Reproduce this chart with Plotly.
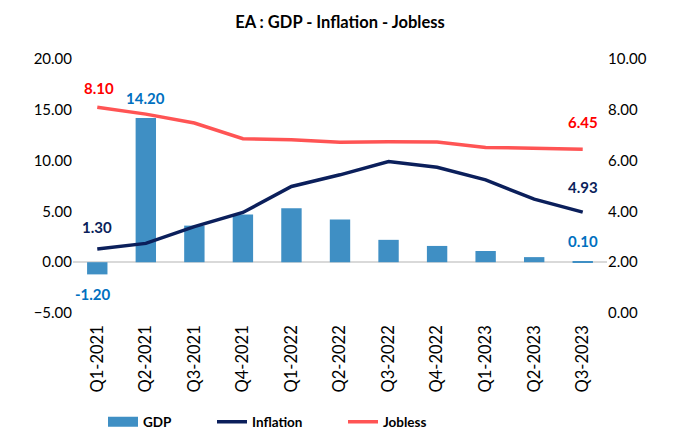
import plotly.graph_objects as go

quarters = ["Q1-2021", "Q2-2021", "Q3-2021", "Q4-2021", "Q1-2022", "Q2-2022",
            "Q3-2022", "Q4-2022", "Q1-2023", "Q2-2023", "Q3-2023"]
gdp = [-1.20, 14.20, 3.6, 4.7, 5.3, 4.2, 2.2, 1.6, 1.1, 0.5, 0.10]
inflation = [1.30, 1.85, 3.5, 4.9, 7.45, 8.6, 9.9, 9.35, 8.1, 6.2, 4.93]
jobless = [8.10, 7.83, 7.48, 6.86, 6.82, 6.72, 6.74, 6.73, 6.52, 6.47, 6.45]

font = "Lato"
c_gdp = "#3F8FC4"
c_inf = "#0B1F5B"
c_job = "#FF5454"

# page has an 8px body margin, so the figure is 8px smaller than the window
W, H = 670, 424

fig = go.Figure()
fig.add_trace(go.Bar(x=quarters, y=gdp, name="GDP", marker_color=c_gdp,
                     marker_line_width=0, showlegend=False))
# legend swatch for the bars (wide rectangle like the original)
fig.add_trace(go.Scatter(x=[None], y=[None], name="GDP", mode="lines",
                         line=dict(color=c_gdp, width=10), legend="legend"))
fig.add_trace(go.Scatter(x=quarters, y=inflation, name="Inflation", mode="lines",
                         line=dict(color=c_inf, width=3.5), legend="legend2"))
fig.add_trace(go.Scatter(x=quarters, y=jobless, name="Jobless", mode="lines",
                         line=dict(color=c_job, width=3.5), yaxis="y2",
                         legend="legend3"))

# data labels
labels = [
    (0, gdp, "y", "#0070C0", -20, -4),
    (1, gdp, "y", "#0070C0", 20, 0),
    (-1, gdp, "y", "#0070C0", 20, 0),
    (0, inflation, "y", c_inf, 22, 0),
    (-1, inflation, "y", c_inf, 25, 0),
    (0, jobless, "y2", "#FF0000", 19, 2),
    (-1, jobless, "y2", "#FF0000", 27, 0),
]
for i, vals, yr, col, shift, xs in labels:
    fig.add_annotation(x=quarters[i], y=vals[i], yref=yr, text=f"{vals[i]:.2f}",
                       showarrow=False, yshift=shift, xshift=xs,
                       font=dict(family=font, size=15, color=col, weight="bold"))

leg = dict(orientation="h", xref="container", yref="container", y=1 - 414 / H,
           yanchor="middle", xanchor="left", bgcolor="rgba(0,0,0,0)",
           font=dict(size=13.5, weight="bold"))

fig.update_layout(
    width=W, height=H,
    margin=dict(l=65, r=71, t=51, b=119),
    plot_bgcolor="white", paper_bgcolor="white",
    font=dict(family=font, size=14, color="#000000"),
    title=dict(text="<b>EA : GDP - Inflation - Jobless</b>", x=(340 - 8) / W,
               xanchor="center", y=1 - 14 / H, yanchor="middle", font=dict(size=16.5)),
    bargap=0.58,
    showlegend=True,
    legend=dict(leg, x=95 / W),
    legend2=dict(leg, x=204 / W),
    legend3=dict(leg, x=335 / W),
    xaxis=dict(tickangle=-90, showgrid=False, showline=False, ticks="",
               tickfont=dict(size=16.5), ticklabelstandoff=8, automargin=False),
    yaxis=dict(range=[-5, 20], dtick=5, tickformat=".2f", showgrid=False,
               zeroline=True, zerolinecolor="#D9D9D9", zerolinewidth=1.5,
               ticks="", tickfont=dict(size=15), automargin=False),
    yaxis2=dict(range=[0, 10], dtick=2, tickformat=".2f", overlaying="y", side="right",
                showgrid=False, zeroline=False, ticks="", tickfont=dict(size=15),
                automargin=False),
)

fig.write_html("out.html")
